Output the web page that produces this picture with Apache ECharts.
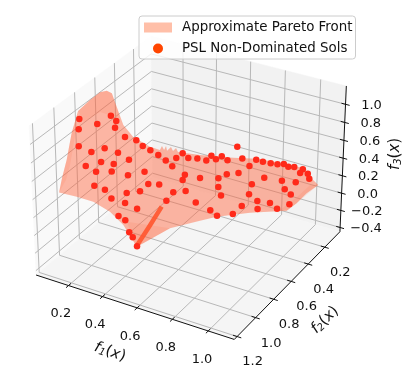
<!DOCTYPE html><html><head><meta charset="utf-8"><style>html,body{margin:0;background:#fff}#c{width:416px;height:378px;filter:blur(.3px)}</style></head><body><div id="c"></div><script src="https://cdn.jsdelivr.net/npm/echarts@6/dist/echarts.min.js"></script><script>
// ---- data (objective values) ----
const xTicks=[.2,.4,.6,.8,1],yTicks=[.2,.4,.6,.8,1,1.2],zTicks=[-.4,-.2,0,.2,.4,.6,.8,1];
const f1Range=[0.006,1.143],f2Range=[0.012,1.23],f3Range=[-0.45,1.2];
const dotF1=[.114,.116,.155,.162,.158,.154,.153,.162,.178,.202,.234,.121,.140,.142,.149,.172,.151,.158,.162,.172,.170,.244,.204,.293,.339,.210,.214,.236,.272,
 .231,.244,.276,.423,.246,.252,.268,.287,.334,.279,.329,.311,.299,.353,.392,.443,.441,.475,.486,.533,.618,.417,.434,.501,.584,.601,.647,.627,.681,
 .494,.433,.592,.701,.757,.821,.822,.591,.661,.660,.700,.743,.778,.806,.839,.867,.917,.922,.960,.990,.947,.878,.931,.982,1.021,.988,.930,.866,.904,.798,.762,.785];
const dotF2=[.937,.949,.833,.709,.650,.657,.556,.455,.416,.378,.350,.962,.873,.745,.624,.552,.799,.685,.967,.885,.727,.516,.620,.564,.530,.968,.872,.691,.615,
 .838,.723,.655,.605,.796,.738,.727,.724,.762,.350,.370,.222,.271,.237,.208,.203,.141,.154,.108,.133,.188,.393,.449,.382,.334,.272,.227,.417,.490,
 .527,.549,.599,.646,.679,.629,.532,.074,.128,.047,.048,.042,.032,.013,.027,.013,.013,.056,.043,.088,.161,.183,.258,.292,.388,.463,.427,.443,.516,.403,.300,.202];
const dotF3=[1.08,.98,.96,.95,.84,.77,.58,.46,.37,.30,.24,.81,.68,.61,.46,.33,.51,.39,.62,.49,.35,.20,.23,.13,.12,.43,.30,.11,.08,
 .18,.03,-.08,.05,-.05,-.15,-.29,-.34,-.38,.20,.18,.19,.17,.17,.16,.16,.16,.15,.15,.15,.40,.15,.15,.15,.15,.15,.15,.15,.15,
 .13,.10,.12,.14,.14,.15,.15,.15,.15,.15,.15,.15,.15,.15,.15,.15,.15,.15,.15,.15,.15,.15,.15,.15,.15,.15,.15,.15,.15,.15,.15,.15];
const frontF1=[.210,.161,.114,.085,.101,.122,.110,.108,.118,.157,.155,.157,.190,.224,.216,.238,.225,.246,.243,.265,.262,.288,.385,.545,.657,.799,.895,1.059,1.046,1.048,1.038,.889,.760,.694,.511,.351,.334,.287,.254,.251,.260,.266];
const frontF2=[1.301,1.192,1.069,.967,.925,.842,.723,.654,.621,.641,.574,.480,.360,.314,.277,.294,.249,.276,.227,.245,.206,.232,.166,.092,.035,.008,.001,.125,.237,.359,.454,.571,.688,.744,.727,.726,.766,.736,.762,.889,1.064,1.229];
const frontF3=[.66,.69,.75,.94,1.15,1.21,1.19,1.15,1.10,.99,.73,.52,.32,.26,.27,.25,.25,.23,.23,.21,.21,.20,.16,.15,.15,.15,.15,.15,.15,.15,.15,.15,.14,.11,-.10,-.37,-.38,-.34,-.18,.09,.37,.58];
const foldPeak=[[.101,.925,1.15],[.122,.842,1.21],[.110,.723,1.19],[.108,.654,1.15],[.118,.621,1.10],[.157,.641,.99],[.157,.611,.84],[.163,.816,1.08],[.129,.918,1.04]];
const foldLeft=[[.210,1.301,.66],[.161,1.192,.69],[.114,1.069,.75],[.085,.967,.94],[.101,.925,1.15],[.103,.954,.97],[.140,1.080,.72],[.183,1.191,.68]];
const foldWedge=[[.252,.723,-.18],[.511,.727,-.10],[.334,.766,-.38]];
const foldRight=[[1.059,.125,.15],[1.048,.359,.15],[1.038,.454,.15],[1.006,.466,.15],[1.021,.298,.15],[1.023,.148,.15]];
const streak=[[.328,.749,-.38],[.344,.645,-.25],[.406,.625,-.01]];
// ---- projection of the 3-D box onto the page ----
const S=198.7,cx=190.7,cy=180.8,B=[1.143,1.143,.857];
const r=[.8660254,.5,0],t=[-.25,.4330127,.8660254],n=[.4330127,-.75,.5];
const dot=(a,b)=>a[0]*b[0]+a[1]*b[1]+a[2]*b[2];
function projN(u,v,w){const P=[(u-.5)*B[0],(v-.5)*B[1],(w-.5)*B[2]];const d=10-dot(P,n);return [dot(P,r)*10/d,dot(P,t)*10/d];}
function norm(a,b,c){return [(a-f1Range[0])/(f1Range[1]-f1Range[0]),(f2Range[1]-b)/(f2Range[1]-f2Range[0]),(c-f3Range[0])/(f3Range[1]-f3Range[0])];}
function proj(a,b,c){const q=norm(a,b,c);return projN(q[0],q[1],q[2]);}
const fmt=v=>(v<0?'\u2212':'')+Math.abs(v).toFixed(1);
function renderFrame(p,api){
 const N=(u,v,w)=>api.coord(projN(u,v,w));
 const kids=[];
 const poly=(pts,fill)=>kids.push({type:'polygon',shape:{points:pts},style:{fill:fill,stroke:fill,lineWidth:.5}});
 const line=(a,b,col,w)=>kids.push({type:'line',shape:{x1:a[0],y1:a[1],x2:b[0],y2:b[1]},style:{stroke:col,lineWidth:w}});
 poly([N(0,0,0),N(0,1,0),N(0,1,1),N(0,0,1)],'#f9f9f9');
 poly([N(0,1,0),N(1,1,0),N(1,1,1),N(0,1,1)],'#f2f2f2');
 poly([N(0,0,0),N(1,0,0),N(1,1,0),N(0,1,0)],'#f5f5f5');
 const g='#b8b8b8',k='#111';
 const txt=(s,x,y)=>kids.push({type:'text',x:x,y:y,style:{text:s,fill:'#111',font:'13px "DejaVu Sans"',align:'center',verticalAlign:'middle'}});
 xTicks.forEach(x=>{const u=norm(x,0,0)[0];line(N(u,0,0),N(u,1,0),g,1);line(N(u,1,0),N(u,1,1),g,1);line(N(u,-.02,0),N(u,.02,0),k,1);const a=N(u,0,0);txt(fmt(x),a[0]-8+2*u,a[1]+28.5);});
 yTicks.forEach(y=>{const v=norm(0,y,0)[1];line(N(0,v,0),N(1,v,0),g,1);line(N(0,v,0),N(0,v,1),g,1);line(N(.98,v,0),N(1.02,v,0),k,1);const a=N(1,v,0);txt(fmt(y),a[0]+15.5,a[1]+25.5);});
 zTicks.forEach(z=>{const w=norm(0,0,z)[2];line(N(0,0,w),N(0,1,w),g,1);line(N(0,1,w),N(1,1,w),g,1);line(N(.98,1,w),N(1.02,1,w),k,1);const a=N(1,1,w);txt(fmt(z),a[0]+26,a[1]+1);});
 line(N(0,0,0),N(1,0,0),k,1);line(N(1,0,0),N(1,1,0),k,1);line(N(1,1,0),N(1,1,1),k,1);
 const rich={i:{font:'italic 15px "DejaVu Sans"',fill:'#111'},s:{font:'italic 10px "DejaVu Sans"',fill:'#111',verticalAlign:'bottom',padding:[6,0,0,0]},n:{font:'15px "DejaVu Sans"',fill:'#111'}};
 const lab=(s,x,y,rot)=>kids.push({type:'text',x:x,y:y,rotation:rot,style:{text:s,rich:rich,align:'center',verticalAlign:'middle'}});
 lab('{i|f}{s|1}{n|(}{i|x}{n|)}',110,352,-.33);
 lab('{i|f}{s|2}{n|(}{i|x}{n|)}',325,320,.77);
 lab('{i|f}{s|3}{n|(}{i|x}{n|)}',395,154,Math.PI/2);
 return {type:'group',children:kids};
}
function renderFront(p,api){
 const c=a=>api.coord(proj(a[0],a[1],a[2]));
 const kids=[{type:'polygon',shape:{points:frontF1.map((v,i)=>c([v,frontF2[i],frontF3[i]]))},style:{fill:'rgba(255,100,60,.46)'}}];
 [foldPeak,foldLeft,foldWedge,foldRight].forEach(f=>kids.push({type:'polygon',shape:{points:f.map(c)},style:{fill:'rgba(255,95,55,.12)'}}));
 kids.push({type:'polyline',shape:{points:streak.map(c)},style:{fill:'none',stroke:'rgba(255,85,45,.9)',lineWidth:4.5}});
 return {type:'group',children:kids};
}
const dotData=dotF1.map((v,i)=>proj(v,dotF2[i],dotF3[i]));
echarts.init(document.getElementById('c'),null,{renderer:'canvas'}).setOption({animation:false,
 grid:{left:0,right:0,top:0,bottom:0},
 xAxis:{type:'value',show:false,min:(0-cx)/S,max:(416-cx)/S},
 yAxis:{type:'value',show:false,min:(cy-378)/S,max:cy/S},
 legend:{left:139,top:16,orient:'vertical',itemWidth:28,itemHeight:10,itemGap:8,padding:[5,3,4,5],borderColor:'#ccc',borderWidth:1,borderRadius:3,backgroundColor:'rgba(255,255,255,.8)',textStyle:{fontFamily:'DejaVu Sans',fontSize:13.4,color:'#111',padding:[0,0,0,5]},
  data:[{name:'Approximate Pareto Front',icon:'rect',itemStyle:{color:'#ffbfa8'}},{name:'PSL Non-Dominated Sols',icon:'circle',itemStyle:{color:'#ff4500'}}]},
 series:[
 {type:'custom',silent:true,data:[[0,0]],renderItem:renderFrame,z:1,clip:false},
 {type:'custom',name:'Approximate Pareto Front',silent:true,data:[[0,0]],z:2,renderItem:renderFront},
 {type:'scatter',name:'PSL Non-Dominated Sols',silent:true,z:3,symbolSize:6.5,itemStyle:{color:'#ff2a1a',opacity:1},data:dotData}
 ]});
</script></body></html>
